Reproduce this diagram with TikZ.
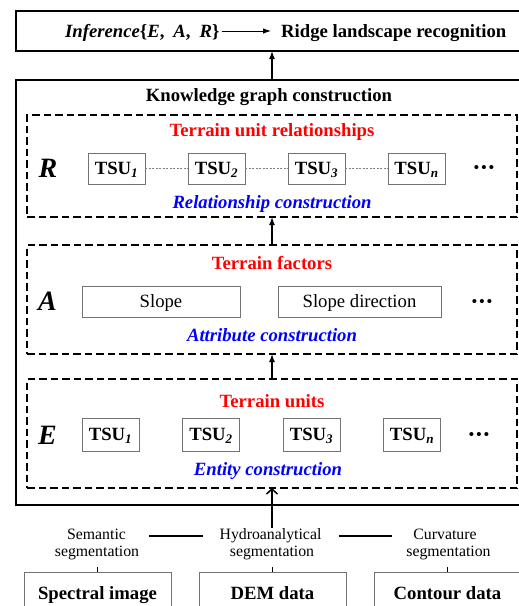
\documentclass[tikz,border=0pt]{standalone}
\usepackage{fontspec}
\setmainfont{Liberation Serif}
\usetikzlibrary{arrows.meta}
\newcommand\fsz[1]{\fontsize{#1}{#1}\selectfont}
\newcommand\tridots{•\hspace{2.2pt}•\hspace{2.2pt}•}
\tikzset{
  heavybox/.style={draw, line width=2.8pt, inner sep=0pt, outer sep=0pt},
  dashbox/.style={draw, line width=2.4pt, dash pattern=on 7.5pt off 4pt, inner sep=0pt, outer sep=0pt},
  unitbox/.style={draw=black!55, line width=1pt, inner sep=0pt, outer sep=0pt,
     minimum width=57pt, text height=12.3pt, text depth=0pt, font=\fsz{18.7}\bfseries},
  attrbox/.style={draw=black!55, line width=1pt, inner sep=0pt, outer sep=0pt,
     minimum height=31pt, text height=12.3pt, text depth=0pt, font=\fsz{18.7}},
  databox/.style={draw=black!55, line width=1pt, inner sep=0pt, outer sep=0pt,
     minimum width=147pt, minimum height=43pt, text height=12.3pt, text depth=0pt, font=\fsz{18.7}\bfseries},
  headtxt/.style={font=\fsz{18.7}\bfseries, inner sep=0pt},
  redtxt/.style={font=\fsz{18.7}\bfseries, text=red, inner sep=0pt, anchor=base},
  bluetxt/.style={font=\fsz{18.7}\bfseries\itshape, text=blue, inner sep=0pt, anchor=base},
  bigletter/.style={font=\fsz{28}\bfseries\itshape, inner sep=0pt, anchor=base},
  dotstxt/.style={font=\fsz{15}\bfseries, inner sep=0pt},
  segtxt/.style={font=\fsz{15.8}, inner sep=0pt, anchor=base},
  upflow/.style={-{Latex[length=8pt,width=6pt]}, line width=1.5pt},
  thinflow/.style={-{Latex[length=8pt,width=5.5pt]}, line width=0.9pt},
  openflow/.style={-{Straight Barb[length=5pt,width=11pt,line width=1.5pt]}, line width=1.5pt},
  link/.style={line width=1.3pt},
  rel/.style={draw=black!50, line width=0.8pt, dash pattern=on 2pt off 1.5pt},
}
\begin{document}
\begin{tikzpicture}[x=1pt,y=-1pt]
\useasboundingbox (0,0) rectangle (519,606);

% top box
\node[heavybox, minimum width=512pt, minimum height=40pt] (top) at (272,31) {};
\node[headtxt, anchor=base west] (inf) at (65,37)
  {\textit{Inference}\{\textit{E},\hspace{9pt}\textit{A},\hspace{9pt}\textit{R}\}};
\node[headtxt, anchor=base west] (goal) at (281,37) {Ridge landscape recognition};
\draw[thinflow, shorten <=2pt, shorten >=10pt] ([yshift=6pt]inf.base east) -- ([yshift=6pt]goal.base west);

% knowledge graph box
\node[heavybox, minimum width=512pt, minimum height=425pt] (kg) at (272,292.5) {};
\node[headtxt, anchor=base] (kgt) at (269,101) {Knowledge graph construction};
\draw[upflow] (kg.north) -- (top.south);

% R box
\node[dashbox, minimum width=490pt, minimum height=102pt] (rbox) at (272,166) {};
\node[redtxt] (rtitle) at (272,136) {Terrain unit relationships};
\node[bigletter] (rlet) at (48,177) {R};
\node[unitbox, minimum height=31pt] (r1) at (116.5,168.5) {TSU\textsubscript{\textit{1}}};
\node[unitbox, minimum height=31pt] (r2) at (216.5,168.5) {TSU\textsubscript{\textit{2}}};
\node[unitbox, minimum height=31pt] (r3) at (316.5,168.5) {TSU\textsubscript{\textit{3}}};
\node[unitbox, minimum height=31pt] (rn) at (416.5,168.5) {TSU\textsubscript{\textit{n}}};
\node[dotstxt] (rdots) at (484,168.5) {\tridots};
\draw[rel] (r1.east) -- (r2.west);
\draw[rel] (r2.east) -- (r3.west);
\draw[rel] (r3.east) -- (rn.west);
\node[bluetxt] (rsub) at (272,208) {Relationship construction};

% A box
\node[dashbox, minimum width=490pt, minimum height=109pt] (abox) at (272,299.5) {};
\node[redtxt] (atitle) at (272,269.3) {Terrain factors};
\node[bigletter] (alet) at (47.5,310) {A};
\node[attrbox, minimum width=158pt] (slope) at (161,301.5) {Slope};
\node[attrbox, minimum width=163pt] (aspect) at (359.5,301.5) {Slope direction};
\node[dotstxt] (adots) at (482,302.7) {\tridots};
\node[bluetxt] (asub) at (272,341) {Attribute construction};
\draw[upflow] (abox.north) -- (rbox.south);

% E box
\node[dashbox, minimum width=490pt, minimum height=109pt] (ebox) at (272,433.5) {};
\node[redtxt] (etitle) at (272,407.3) {Terrain units};
\node[bigletter] (elet) at (47.5,444) {E};
\node[unitbox, minimum height=33pt] (e1) at (110.5,434.5) {TSU\textsubscript{\textit{1}}};
\node[unitbox, minimum height=33pt] (e2) at (211,434.5) {TSU\textsubscript{\textit{2}}};
\node[unitbox, minimum height=33pt] (e3) at (311.5,434.5) {TSU\textsubscript{\textit{3}}};
\node[unitbox, minimum height=33pt] (en) at (412,434.5) {TSU\textsubscript{\textit{n}}};
\node[dotstxt] (edots) at (479,435.7) {\tridots};
\node[bluetxt] (esub) at (268,475) {Entity construction};
\draw[upflow] (ebox.north) -- (abox.south);

% bottom: segmentation methods
\node[segtxt] (sem1) at (96.5,539) {Semantic};
\node[segtxt] (sem2) at (97,556.5) {segmentation};
\node[segtxt] (hyd1) at (270.5,539) {Hydroanalytical};
\node[segtxt] (hyd2) at (272,556.5) {segmentation};
\node[segtxt] (cur1) at (445,539) {Curvature};
\node[segtxt] (cur2) at (448.5,556.5) {segmentation};
\draw[link] ([xshift=23pt,yshift=3pt]sem1.base east) -- ([xshift=-16pt,yshift=3pt]hyd1.base west);
\draw[link] ([xshift=17pt,yshift=3pt]hyd1.base east) -- ([xshift=-21.5pt,yshift=3pt]cur1.base west);
\draw[openflow] (ebox.south |- hyd1.north) -- (ebox.south);

% data boxes
\node[databox] (spec) at (97.5,593.5) {Spectral image};
\node[databox] (dem) at (272.5,593.5) {DEM data};
\node[databox] (cont) at (447.5,593.5) {Contour data};
\draw[link, shorten >=7pt] (spec.north) -- (spec.north |- sem2.south);
\draw[link, shorten >=7pt] (dem.north) -- (dem.north |- hyd2.south);
\draw[link, shorten >=7pt] (cont.north) -- (cont.north |- cur2.south);
\end{tikzpicture}
\end{document}
